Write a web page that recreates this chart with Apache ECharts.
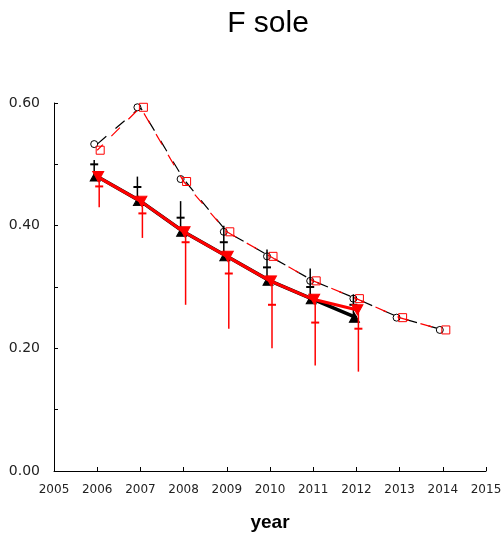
<!DOCTYPE html>
<html>
<head>
<meta charset="utf-8">
<script src="https://cdn.jsdelivr.net/npm/echarts@6/dist/echarts.min.js"></script>
<style>
  html, body { margin: 0; padding: 0; background: #fff; }
  #chart { width: 502px; height: 536px; }
</style>
</head>
<body>
<div id="chart"></div>
<script>
// Fishing mortality estimates for sole, by year
const years = [2006, 2007, 2008, 2009, 2010, 2011, 2012, 2013, 2014];
const yearsShort = [2006, 2007, 2008, 2009, 2010, 2011, 2012];

// Dashed projections (black circles / red squares)
const projBlack = [0.533, 0.593, 0.476, 0.390, 0.350, 0.310, 0.281, 0.250, 0.230];
const projRed   = [0.523, 0.593, 0.472, 0.390, 0.350, 0.310, 0.281, 0.250, 0.230];

// Solid estimates (black up-triangles / red down-triangles)
const estBlack = [0.480, 0.440, 0.390, 0.350, 0.310, 0.280, 0.250];
const estRed   = [0.480, 0.440, 0.390, 0.350, 0.310, 0.280, 0.263];

// Black interval: low / centre / high
const barBlackLow  = [0.480, 0.440, 0.390, 0.350, 0.310, 0.280, 0.250];
const barBlackMid  = [0.500, 0.463, 0.413, 0.373, 0.332, 0.300, 0.271];
const barBlackHigh = [0.507, 0.480, 0.440, 0.400, 0.361, 0.330, 0.288];

// Red interval: low / centre / high
const barRedLow  = [0.430, 0.380, 0.271, 0.232, 0.200, 0.172, 0.162];
const barRedMid  = [0.464, 0.420, 0.373, 0.322, 0.271, 0.242, 0.232];
const barRedHigh = [0.480, 0.440, 0.390, 0.350, 0.310, 0.280, 0.263];

const xTicks = [2005, 2006, 2007, 2008, 2009, 2010, 2011, 2012, 2013, 2014, 2015];
const yTicks = [0, 0.2, 0.4, 0.6];

const pairs = (xs, ys) => xs.map((x, i) => [x, ys[i]]);
const triples = (xs, lo, mid, hi) => xs.map((x, i) => [x, lo[i], mid[i], hi[i]]);

function barRenderer(color, dx, width) {
  return function (params, api) {
    const x = api.value(0);
    const pLo = api.coord([x, api.value(1)]);
    const pMid = api.coord([x, api.value(2)]);
    const pHi = api.coord([x, api.value(3)]);
    const cx = pLo[0] + dx;
    const style = { stroke: color, lineWidth: width };
    return {
      type: 'group',
      children: [
        { type: 'line', shape: { x1: cx, y1: pLo[1], x2: cx, y2: pHi[1] }, style: style },
        { type: 'line', shape: { x1: cx - 4, y1: pMid[1], x2: cx + 4, y2: pMid[1] }, style: { stroke: color, lineWidth: 2 } }
      ]
    };
  };
}

const labelFont = 'DejaVu Sans, Verdana, sans-serif';

const chart = echarts.init(document.getElementById('chart'), null, { renderer: 'canvas' });
chart.setOption({
  animation: false,
  backgroundColor: '#ffffff',
  title: {
    text: 'F sole',
    left: 263,
    top: 4,
    textAlign: 'center',
    textStyle: { fontFamily: 'Liberation Sans, Arial, sans-serif', fontSize: 30, fontWeight: 'normal', color: '#000' }
  },
  grid: { left: 54, right: 16, top: 103, bottom: 65, outerBoundsMode: 'none', containLabel: false },
  xAxis: {
    type: 'value',
    min: xTicks[0],
    max: xTicks[xTicks.length - 1],
    interval: 1,
    name: 'year',
    nameLocation: 'middle',
    nameGap: 42,
    nameTextStyle: { fontFamily: 'Liberation Sans, Arial, sans-serif', fontSize: 19, fontWeight: 'bold', color: '#000' },
    axisLine: { show: true, onZero: false, lineStyle: { color: '#000', width: 1 } },
    axisTick: { show: true, inside: true, length: 4, lineStyle: { color: '#000' } },
    axisLabel: {
      color: '#222', fontSize: 12, margin: 13,
      fontFamily: labelFont,
      formatter: v => String(v)
    },
    splitLine: { show: false }
  },
  yAxis: {
    type: 'value',
    min: yTicks[0],
    max: yTicks[yTicks.length - 1],
    interval: 0.2,
    axisLine: { show: true, onZero: false, lineStyle: { color: '#000', width: 1 } },
    axisTick: { show: true, inside: true, length: 4, lineStyle: { color: '#000' } },
    minorTick: { show: true, splitNumber: 2, length: 4, lineStyle: { color: '#000' } },
    axisLabel: {
      color: '#222', fontSize: 14, margin: 14,
      fontFamily: labelFont,
      formatter: v => v.toFixed(2)
    },
    splitLine: { show: false }
  },
  series: [
    {
      type: 'line', data: pairs(years, projBlack),
      symbol: 'circle', symbolSize: 7, symbolOffset: [-3, 0],
      itemStyle: { color: '#fff', borderColor: '#000', borderWidth: 1 },
      lineStyle: { color: '#000', width: 1.2, type: [12, 12] },
      z: 2
    },
    {
      type: 'line', data: pairs(years, projRed),
      symbol: 'rect', symbolSize: 8, symbolOffset: [3, 0],
      itemStyle: { color: 'rgba(255,255,255,0)', borderColor: '#ff0000', borderWidth: 1 },
      lineStyle: { color: '#ff0000', width: 1.2, type: [12, 12], dashOffset: 4 },
      z: 3
    },
    {
      type: 'custom', data: triples(yearsShort, barBlackLow, barBlackMid, barBlackHigh),
      renderItem: barRenderer('#000', -3, 1.5), z: 4
    },
    {
      type: 'line', data: pairs(yearsShort, estBlack),
      symbol: 'triangle', symbolSize: [10, 9], symbolOffset: [-2, 0],
      itemStyle: { color: '#000', borderColor: '#000' },
      lineStyle: { color: '#000', width: 3.5 },
      z: 5
    },
    {
      type: 'custom', data: triples(yearsShort, barRedLow, barRedMid, barRedHigh),
      renderItem: barRenderer('#ff0000', 2, 1.5), z: 6
    },
    {
      type: 'line', data: pairs(yearsShort, estRed),
      symbol: 'triangle', symbolRotate: 180, symbolSize: [11, 10], symbolOffset: [1, 0],
      itemStyle: { color: '#ff0000', borderColor: '#ff0000' },
      lineStyle: { color: '#ff0000', width: 3 },
      z: 7
    }
  ]
});
</script>
</body>
</html>
